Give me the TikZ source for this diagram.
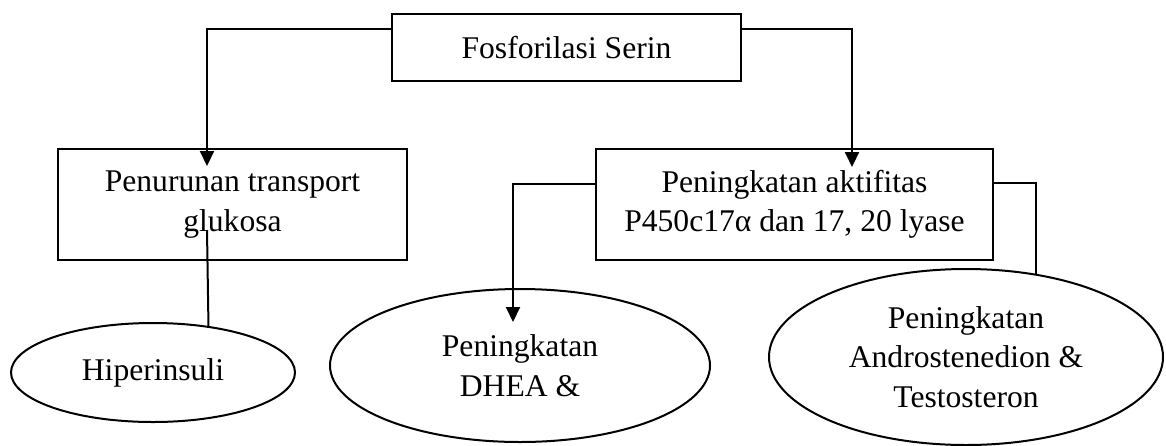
\documentclass[tikz,border=0pt]{standalone}
\usepackage{fontspec}
\setmainfont{Liberation Serif}
\usepackage{tikz}
\usetikzlibrary{shapes.geometric, arrows.meta}

\begin{document}
\begin{tikzpicture}[x=0.5pt, y=-0.5pt, line width=1pt,
    >={Triangle[width=7pt, length=7.5pt]},
    font=\fontsize{15.8}{19.7}\selectfont,
    box/.style={draw, rectangle, align=center, inner sep=0pt},
    oval/.style={draw, ellipse, align=center, inner sep=0pt}]
        \useasboundingbox (0, 0) rectangle (1166, 445);

        \node [box, minimum width=174.5pt, minimum height=33.5pt] (serin) at (566.5, 47.5) {Fosforilasi Serin};
        \node [box, minimum width=174.5pt, minimum height=55.5pt] (turun) at (232.5, 204.5) {Penurunan transport\\glukosa};
        \node [box, minimum width=198.5pt, minimum height=55.5pt] (aktif) at (794.5, 204.5) {Peningkatan aktifitas\\P450c17α dan 17, 20 lyase};

        \node [oval, minimum width=142pt, minimum height=49.5pt] (hiper) at (153, 372.5) {Hiperinsuli};
        \node [oval, minimum width=190pt, minimum height=76.5pt] (dhea) at (520, 365.5) {Peningkatan\\DHEA \&};
        \node [oval, minimum width=197pt, minimum height=88pt] (andro) at (966, 357) {Peningkatan\\Androstenedion \&\\Testosteron};

        % ends that sit inside the nodes
        \coordinate (tipturun) at (207, 166);
        \coordinate (tipaktif) at (852, 167);
        \coordinate (tipdhea) at (513, 322);
        \coordinate (gluk) at (207, 230);

        \draw [->] ([yshift=9.25pt]serin.west) -| (tipturun);
        \draw [->] ([yshift=9.25pt]serin.east) -| (tipaktif);
        \draw (gluk) -- (hiper.40);
        \draw [->] ([yshift=10.25pt]aktif.west) -| (tipdhea);
        \draw ([yshift=10.75pt]aktif.east) -| (andro.50);
\end{tikzpicture}
\end{document}
